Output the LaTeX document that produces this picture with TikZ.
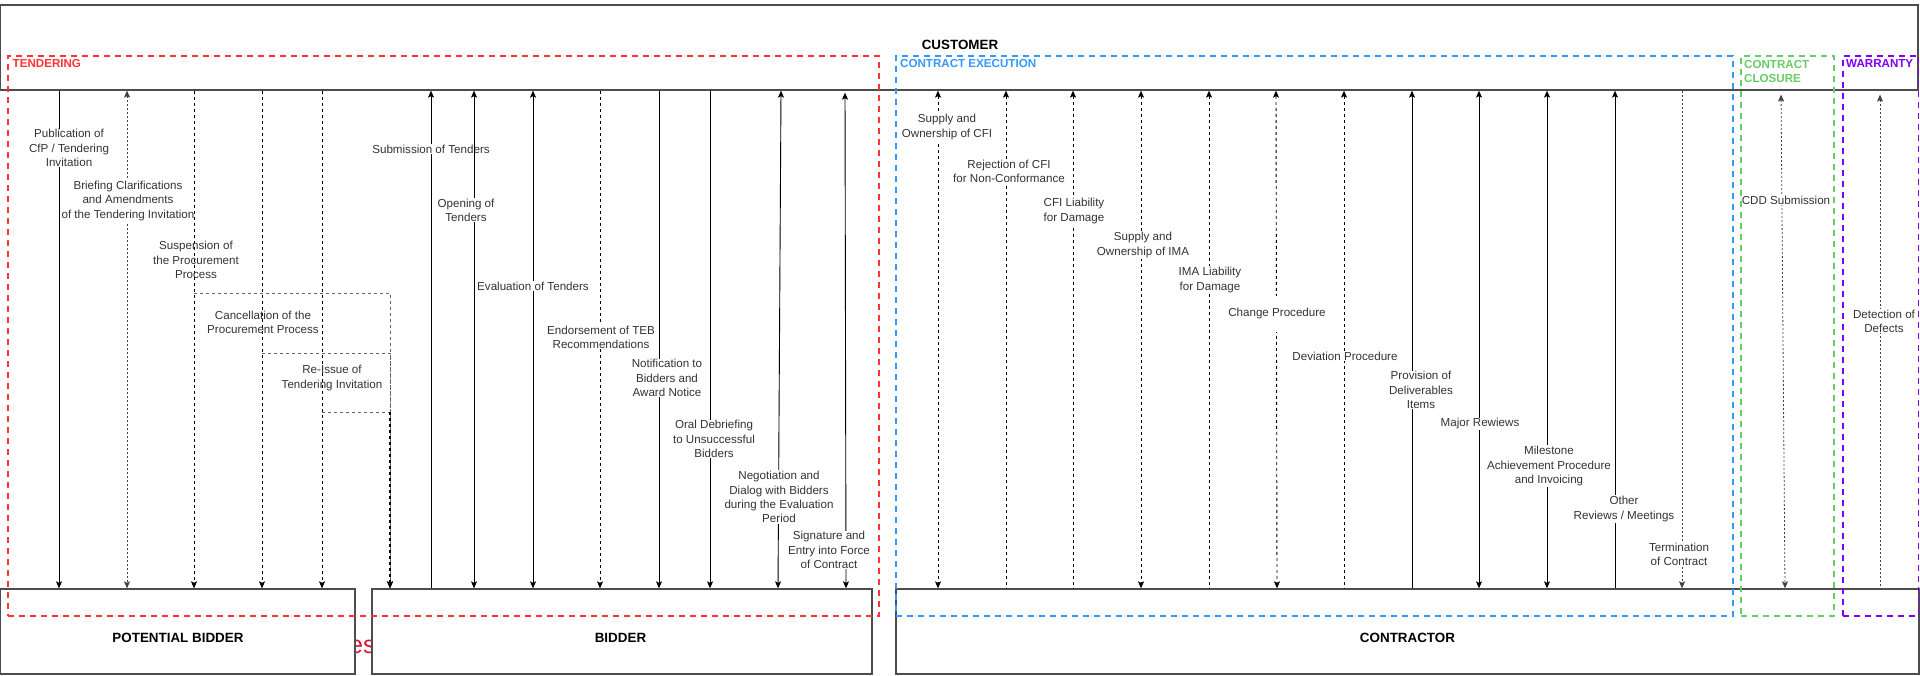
\documentclass[tikz,border=0pt]{standalone}
\usepackage{fontspec}
\setmainfont{Liberation Sans}
\usetikzlibrary{arrows.meta}

\definecolor{tendred}{RGB}{255,51,51}
\definecolor{execblue}{RGB}{51,153,255}
\definecolor{closegreen}{RGB}{102,204,102}
\definecolor{warrpurple}{RGB}{127,0,255}
\definecolor{boxline}{RGB}{77,77,77}
\definecolor{labelgray}{RGB}{51,51,51}
\definecolor{routegray}{RGB}{100,100,100}
\definecolor{crimsontext}{RGB}{220,20,60}

% #1 name, #2 line style, #3 x at customer, #4 x at target, #5 target box,
% #6/#7 label position, #8 label text, #9 extra label style
\newcommand\flow[9]{%
  \path (#3,0) coordinate (#1-top) (#4,0) coordinate (#1-bot);
  \draw[#2] (customer.south -| #1-top) -- (#5.north -| #1-bot);
  \node[msglabel,#9] (#1) at (#6,#7) {#8};
}

\begin{document}
\begin{tikzpicture}[x=1pt,y=-1pt,
  party/.style={draw=boxline, line width=1.3pt, fill=white, inner sep=0pt},
  partytitle/.style={font=\bfseries\fontsize{13.4}{16}\selectfont, text=black, inner sep=0pt},
  msglabel/.style={font=\fontsize{11.6}{14.2}\selectfont, text=labelgray, align=center, fill=white, inner sep=1pt},
  bare/.style={fill=none},
  solidline/.style={line width=0.9pt, draw=black},
  dashline/.style={solidline, dash pattern=on 3pt off 3pt},
  fineline/.style={line width=0.8pt, draw=black!75, dash pattern=on 2pt off 2pt},
  routeline/.style={line width=0.9pt, draw=routegray, dash pattern=on 3pt off 3pt},
  tipup/.style={arrows={Stealth[length=7pt,width=6pt,inset=1.5pt]-}},
  tipdown/.style={arrows={-Stealth[length=7pt,width=6pt,inset=1.5pt]}},
  tipboth/.style={arrows={Stealth[length=7pt,width=6pt,inset=1.5pt]-Stealth[length=7pt,width=6pt,inset=1.5pt]}},
  phase/.style={draw=#1, line width=1.8pt, dash pattern=on 6pt off 5pt, fill=none, inner sep=0pt, minimum height=560pt},
  phasetitle/.style={font=\bfseries\fontsize{11.6}{14.6}\selectfont, text=#1, anchor=west, align=left, inner sep=0pt},
]
\useasboundingbox (0,0) rectangle (1920,676);

% word partly covered by the party boxes
\node[font=\fontsize{25}{30}\selectfont, text=crimsontext, anchor=base west, inner sep=0pt] (hiddenword) at (349,653) {es};

% parties
\node[party, minimum width=1917.4pt, minimum height=85pt] (customer) at (959.3,47.5) {};
\node[party, minimum width=354.4pt, minimum height=85pt] (pbidder) at (177.8,631.5) {};
\node[party, minimum width=500pt, minimum height=85pt] (bidder) at (622,631.5) {};
\node[party, minimum width=1023pt, minimum height=85pt] (contractor) at (1407.5,631.5) {};

\node[partytitle] (customer-title) at (960,45) {CUSTOMER};
\node[partytitle] (pbidder-title) at (178,638) {POTENTIAL BIDDER};
\node[partytitle] (bidder-title) at (620.5,638) {BIDDER};
\node[partytitle] (contractor-title) at (1407.5,638) {CONTRACTOR};

% tendering
\flow{f1}{solidline,tipdown}{59}{59}{pbidder}{69}{148}{Publication of\\CfP / Tendering\\Invitation}{}
\flow{f2}{fineline,tipboth}{127}{127}{pbidder}{128}{201}{Briefing Clarifications\\and Amendments\\of the Tendering Invitation}{}
\flow{f3}{dashline,tipdown}{194}{194}{pbidder}{196}{260}{Suspension of\\the Procurement\\Process}{bare}
\flow{f4}{dashline,tipdown}{262}{262}{pbidder}{263}{322}{Cancellation of the\\Procurement Process}{bare}
\flow{f5}{dashline,tipdown}{322}{322}{pbidder}{332}{378}{Re-Issue of\\Tendering Invitation}{bare}

% the three tendering branches merge into one route towards the bidder
\coordinate (susp-split) at (194,293);
\coordinate (canc-split) at (262,353);
\coordinate (reis-split) at (322,412);
\coordinate (route-x) at (390,0);
\draw[routeline,tipdown] (susp-split) -| (bidder.north -| route-x);
\draw[routeline,tipdown] (canc-split) -| (bidder.north -| route-x);
\draw[routeline,tipdown] (reis-split) -| (bidder.north -| route-x);
\draw[dashline,line width=1.1pt,tipdown] (reis-split -| route-x) -- (bidder.north -| route-x);

\flow{f6}{solidline,tipup}{431}{431}{bidder}{431}{149}{Submission of Tenders}{}
\flow{f7}{solidline,tipboth}{474}{474}{bidder}{466}{210}{Opening of\\Tenders}{}
\flow{f8}{solidline,tipboth}{533}{533}{bidder}{533}{286}{Evaluation of Tenders}{}
\flow{f9}{dashline,tipdown}{600}{600}{bidder}{601}{337}{Endorsement of TEB\\Recommendations}{}
\flow{f10}{solidline,tipdown}{659}{659}{bidder}{667}{378}{Notification to\\Bidders and\\Award Notice}{}
\flow{f11}{solidline,tipdown}{710}{710}{bidder}{714}{439}{Oral Debriefing\\to Unsuccessful\\Bidders}{}
\flow{f12}{solidline,tipboth}{781}{778}{bidder}{779}{497}{Negotiation and\\Dialog with Bidders\\during the Evaluation\\Period}{}
\flow{f13}{solidline,tipboth,shorten <=2pt}{845}{846}{bidder}{829}{550}{Signature and\\Entry into Force\\of Contract}{}

% contract execution
\flow{f14}{dashline,tipboth}{938}{938}{contractor}{947}{127}{Supply and\\Ownership of CFI}{}
\flow{f15}{dashline,tipup}{1006}{1006}{contractor}{1009}{171}{Rejection of CFI\\for Non-Conformance}{}
\flow{f16}{dashline,tipup}{1073}{1073}{contractor}{1074}{211}{CFI Liability\\for Damage}{}
\flow{f17}{dashline,tipboth}{1141}{1141}{contractor}{1143}{245}{Supply and\\Ownership of IMA}{}
\flow{f18}{dashline,tipup}{1209}{1209}{contractor}{1210}{280}{IMA Liability\\for Damage}{}
\flow{f19}{dashline,tipboth}{1276}{1277}{contractor}{1277}{314}{Change Procedure}{inner ysep=13pt}
\flow{f20}{dashline,tipup}{1344}{1344}{contractor}{1345}{356}{Deviation Procedure}{}
\flow{f21}{solidline,tipup}{1412}{1412}{contractor}{1421}{390}{Provision of\\Deliverables\\Items}{}
\flow{f22}{solidline,tipboth}{1479}{1479}{contractor}{1480}{424}{Major Rewiews}{}
\flow{f23}{solidline,tipboth}{1547}{1547}{contractor}{1549}{466}{Milestone\\Achievement Procedure\\and Invoicing}{}
\flow{f24}{solidline,tipup}{1615}{1615}{contractor}{1624}{509}{Other\\Reviews / Meetings}{}
\flow{f25}{fineline,tipdown}{1682}{1682}{contractor}{1679}{554}{Termination\\of Contract}{}

% contract closure and warranty
\flow{f26}{fineline,tipboth,shorten <=4pt}{1781}{1785}{contractor}{1786}{200}{CDD Submission}{}
\flow{f27}{fineline,tipup,shorten <=4pt}{1880}{1880}{contractor}{1884}{321}{Detection of\\Defects}{}

% phases
\node[phase=tendred, minimum width=871pt] (tendering) at (443.5,336) {};
\node[phase=execblue, minimum width=837pt] (execution) at (1314.5,336) {};
\node[phase=closegreen, minimum width=93pt] (closure) at (1787.5,336) {};
\node[phase=warrpurple, minimum width=75.5pt] (warranty) at (1880.75,336) {};

\node[phasetitle=tendred] (tendering-title) at (12.5,64) {TENDERING};
\node[phasetitle=execblue] (execution-title) at (900,64) {CONTRACT EXECUTION};
\node[phasetitle=closegreen] (closure-title) at (1744,71.4) {CONTRACT\\CLOSURE};
\node[phasetitle=warrpurple] (warranty-title) at (1846,64) {WARRANTY};
\end{tikzpicture}
\end{document}
